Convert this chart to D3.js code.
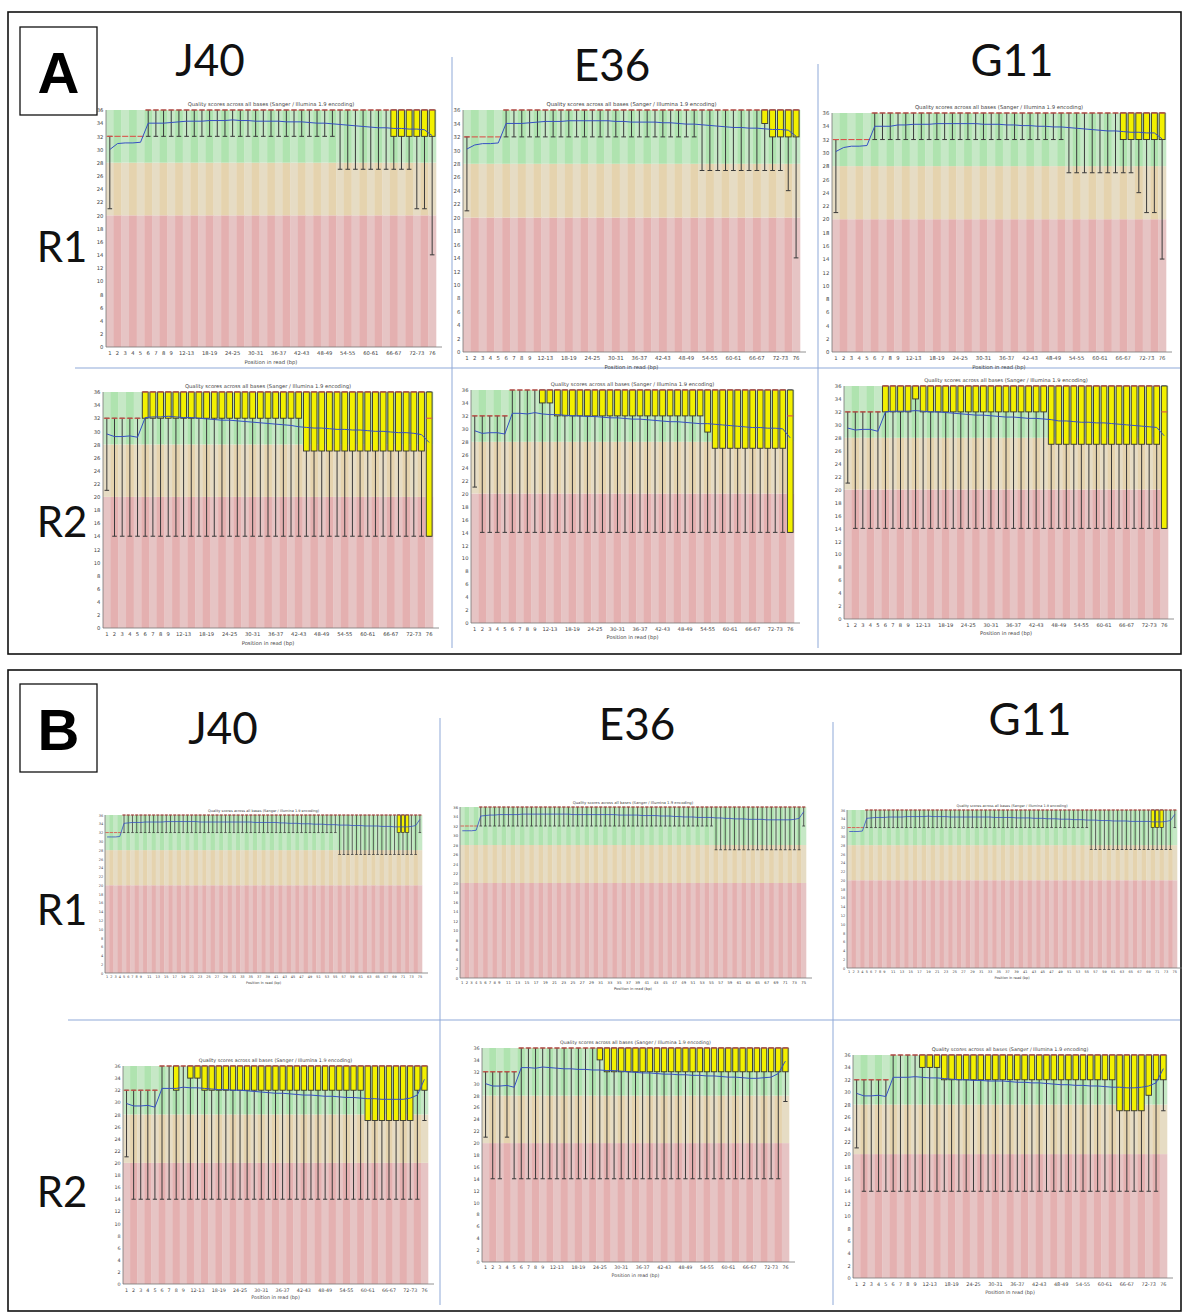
<!DOCTYPE html>
<html><head><meta charset="utf-8">
<script src="https://cdn.jsdelivr.net/npm/d3@7"></script>
<style>body{margin:0;background:#fff}svg{display:block}</style>
</head><body>
<svg id="fig" width="1182" height="1313"></svg>
<script>
// ---------- categories / tick labels ----------
const bins43 = ["1","2","3","4","5","6","7","8","9","10-11","12-13","14-15","16-17","18-19","20-21","22-23","24-25","26-27","28-29","30-31","32-33","34-35","36-37","38-39","40-41","42-43","44-45","46-47","48-49","50-51","52-53","54-55","56-57","58-59","60-61","62-63","64-65","66-67","68-69","70-71","72-73","74-75","76"];
const ticks43 = ["1","2","3","4","5","6","7","8","9","12-13","18-19","24-25","30-31","36-37","42-43","48-49","54-55","60-61","66-67","72-73","76"];
const bins75 = ["1","2","3","4","5","6","7","8","9","10","11","12","13","14","15","16","17","18","19","20","21","22","23","24","25","26","27","28","29","30","31","32","33","34","35","36","37","38","39","40","41","42","43","44","45","46","47","48","49","50","51","52","53","54","55","56","57","58","59","60","61","62","63","64","65","66","67","68","69","70","71","72","73","74","75"];
const ticks75 = ["1","2","3","4","5","6","7","8","9","11","13","15","17","19","21","23","25","27","29","31","33","35","37","39","41","43","45","47","49","51","53","55","57","59","61","63","65","67","69","71","73","75"];
const yTicks = [0,2,4,6,8,10,12,14,16,18,20,22,24,26,28,30,32,34,36];
const zoneBounds = [0,20,28,36];
const titleText = "Quality scores across all bases (Sanger / Illumina 1.9 encoding)";
const xLabelText = "Position in read (bp)";
const panelLetters = ["A","B"];
const sampleNames = ["J40","E36","G11"];
const readNames = ["R1","R2"];

// ---------- shared upper values (q3 / 90th pct / median) ----------
const upper43 = [32,32,32,32,32,36,36,36,36,36, 36,36,36,36,36,36,36,36,36,36, 36,36,36,36,36,36,36,36,36,36, 36,36,36,36,36,36,36,36,36,36, 36,36,36];
const medA2 = [32,32,32,32,32,36,36,36,36,36, 36,36,36,36,36,36,36,36,36,36, 36,36,36,36,36,36,36,36,36,36, 36,36,36,36,36,36,36,36,36,36, 36,36,32];
const upper75 = [32,32,32,32,36,36,36,36,36,36, 36,36,36,36,36,36,36,36,36,36, 36,36,36,36,36,36,36,36,36,36, 36,36,36,36,36,36,36,36,36,36, 36,36,36,36,36,36,36,36,36,36, 36,36,36,36,36,36,36,36,36,36, 36,36,36,36,36,36,36,36,36,36, 36,36,36,36,36];

// ---------- Panel A, R1 ----------
const aJ40R1_lo = [21,32,32,32,32,32,32,32,32,32, 32,32,32,32,32,32,32,32,32,32, 32,32,32,32,32,32,32,32,32,32, 27,27,27,27,27,27,27,27,27,27, 21,21,14];
const aJ40R1_q1 = [32,32,32,32,32,36,36,36,36,36, 36,36,36,36,36,36,36,36,36,36, 36,36,36,36,36,36,36,36,36,36, 36,36,36,36,36,36,36,32,32,32, 32,32,32];
const aJ40R1_mean = [30.0,30.9,31.0,31.0,31.1,34.0,34.0,34.0,34.1,34.2, 34.3,34.3,34.3,34.4,34.4,34.4,34.5,34.4,34.4,34.3, 34.3,34.3,34.3,34.2,34.2,34.2,34.1,34.0,34.0,33.9, 33.8,33.7,33.6,33.5,33.4,33.3,33.3,33.2,33.2,33.1, 33.1,33.0,32.1];

const aE36R1_lo = [21,32,32,32,32,32,32,32,32,32, 32,32,32,32,32,32,32,32,32,32, 32,32,32,32,32,32,32,32,32,32, 27,27,27,27,27,27,27,27,27,27, 27,24,14];
const aE36R1_q1 = [32,32,32,32,32,36,36,36,36,36, 36,36,36,36,36,36,36,36,36,36, 36,36,36,36,36,36,36,36,36,36, 36,36,36,36,36,36,36,36,34,32, 32,32,32];
const aE36R1_mean = [30.2,30.8,31.0,31.0,31.1,34.0,34.0,34.0,34.1,34.2, 34.3,34.3,34.3,34.4,34.4,34.4,34.4,34.4,34.4,34.3, 34.3,34.2,34.2,34.2,34.2,34.1,34.1,34.0,33.9,33.9, 33.8,33.7,33.6,33.5,33.4,33.4,33.3,33.3,33.2,33.1, 33.1,33.0,32.1];

const aG11R1_lo = [21,32,32,32,32,32,32,32,32,32, 32,32,32,32,32,32,32,32,32,32, 32,32,32,32,32,32,32,32,32,32, 27,27,27,27,27,27,27,27,27,24, 21,21,14];
const aG11R1_q1 = [32,32,32,32,32,36,36,36,36,36, 36,36,36,36,36,36,36,36,36,36, 36,36,36,36,36,36,36,36,36,36, 36,36,36,36,36,36,36,32,32,32, 32,32,32];
const aG11R1_mean = [30.2,30.8,31.0,31.0,31.1,34.0,34.0,34.0,34.2,34.2, 34.3,34.3,34.3,34.4,34.4,34.4,34.4,34.4,34.4,34.3, 34.3,34.3,34.2,34.2,34.1,34.1,34.0,34.0,33.9,33.9, 33.8,33.7,33.6,33.5,33.4,33.3,33.3,33.2,33.1,33.1, 33.0,33.0,32.1];

// ---------- Panel A, R2 ----------
const aJ40R2_lo = [21,14,14,14,14,14,14,14,14,14, 14,14,14,14,14,14,14,14,14,14, 14,14,14,14,14,14,14,14,14,14, 14,14,14,14,14,14,14,14,14,14, 14,14,14];
const aJ40R2_q1 = [32,32,32,32,32,32,32,32,32,32, 32,32,32,32,32,32,32,32,32,32, 32,32,32,32,32,32,27,27,27,27, 27,27,27,27,27,27,27,27,27,27, 27,27,14];
const aJ40R2_mean = [29.6,29.2,29.2,29.3,29.1,32.1,32.2,32.2,32.3,32.2, 32.1,32.1,32.0,31.9,31.8,31.7,31.7,31.6,31.5,31.4, 31.3,31.2,31.1,31.0,30.9,30.7,30.6,30.5,30.5,30.4, 30.3,30.3,30.2,30.2,30.1,30.0,30.0,29.9,29.8,29.8, 29.7,29.5,28.3];

const aE36R2_lo = [21,14,14,14,14,14,14,14,14,14, 14,14,14,14,14,14,14,14,14,14, 14,14,14,14,14,14,14,14,14,14, 14,14,14,14,14,14,14,14,14,14, 14,14,14];
const aE36R2_q1 = [32,32,32,32,32,36,36,36,36,34, 34,32,32,32,32,32,32,32,32,32, 32,32,32,32,32,32,32,32,32,32, 32,29.5,27,27,27,27,27,27,27,27, 27,27,14];
const aE36R2_mean = [29.7,29.3,29.4,29.4,29.2,32.4,32.4,32.3,32.5,32.3, 32.2,32.2,32.1,32.0,32.0,31.9,31.9,31.8,31.7,31.7, 31.6,31.5,31.5,31.4,31.3,31.2,31.1,31.1,31.0,30.9, 30.8,30.8,30.7,30.6,30.5,30.4,30.3,30.2,30.2,30.1, 30.1,30.0,28.6];

const aG11R2_lo = [21,14,14,14,14,14,14,14,14,14, 14,14,14,14,14,14,14,14,14,14, 14,14,14,14,14,14,14,14,14,14, 14,14,14,14,14,14,14,14,14,14, 14,14,14];
const aG11R2_q1 = [32,32,32,32,32,32,32,32,32,34, 32,32,32,32,32,32,32,32,32,32, 32,32,32,32,32,32,32,27,27,27, 27,27,27,27,27,27,27,27,27,27, 27,27,14];
const aG11R2_mean = [29.5,29.2,29.3,29.3,29.0,32.0,32.1,32.1,32.1,32.2, 32.1,32.0,32.0,31.9,31.8,31.7,31.6,31.5,31.5,31.4, 31.3,31.2,31.2,31.1,31.0,31.0,30.9,30.8,30.6,30.6, 30.5,30.4,30.4,30.3,30.3,30.2,30.1,30.0,29.9,29.8, 29.7,29.6,28.3];

// ---------- Panel B, R1 (75 positions) ----------
const bJ40R1_lo = [32,32,32,32,32,32,32,32,32,32, 32,32,32,32,32,32,32,32,32,32, 32,32,32,32,32,32,32,32,32,32, 32,32,32,32,32,32,32,32,32,32, 32,32,32,32,32,32,32,32,32,32, 32,32,32,32,32,27,27,27,27,27, 27,27,27,27,27,27,27,27,27,27, 27,27,27,27,32];
const bJ40R1_q1 = [32,32,32,32,36,36,36,36,36,36, 36,36,36,36,36,36,36,36,36,36, 36,36,36,36,36,36,36,36,36,36, 36,36,36,36,36,36,36,36,36,36, 36,36,36,36,36,36,36,36,36,36, 36,36,36,36,36,36,36,36,36,36, 36,36,36,36,36,36,36,36,36,32, 32,32,36,36,36];
const bJ40R1_mean = [31.0,31.0,31.0,31.1,34.1,34.2,34.3,34.3,34.3,34.4, 34.4,34.4,34.4,34.4,34.5,34.5,34.5,34.5,34.5,34.5, 34.5,34.5,34.4,34.4,34.4,34.4,34.4,34.4,34.4,34.4, 34.4,34.4,34.4,34.4,34.4,34.3,34.3,34.3,34.3,34.3, 34.3,34.2,34.2,34.1,34.1,34.1,34.0,34.0,34.0,33.9, 33.9,33.9,33.8,33.8,33.8,33.7,33.7,33.7,33.6,33.6, 33.6,33.5,33.5,33.5,33.5,33.4,33.4,33.4,33.3,33.3, 33.3,33.3,33.4,33.6,35.0];

const bE36R1_lo = [32,32,32,32,32,32,32,32,32,32, 32,32,32,32,32,32,32,32,32,32, 32,32,32,32,32,32,32,32,32,32, 32,32,32,32,32,32,32,32,32,32, 32,32,32,32,32,32,32,32,32,32, 32,32,32,32,32,27,27,27,27,27, 27,27,27,27,27,27,27,27,27,27, 27,27,27,27,32];
const bE36R1_q1 = upper75;
const bE36R1_mean = [31.0,31.0,31.0,31.1,34.1,34.2,34.3,34.3,34.4,34.4, 34.4,34.4,34.4,34.5,34.5,34.5,34.5,34.5,34.5,34.5, 34.5,34.5,34.5,34.5,34.4,34.4,34.4,34.4,34.4,34.4, 34.4,34.4,34.4,34.4,34.3,34.3,34.3,34.3,34.3,34.2, 34.2,34.2,34.2,34.1,34.1,34.1,34.0,34.0,33.9,33.9, 33.9,33.8,33.8,33.8,33.8,33.7,33.7,33.6,33.6,33.5, 33.5,33.5,33.4,33.4,33.4,33.4,33.3,33.3,33.3,33.3, 33.3,33.3,33.4,33.6,35.0];

const bG11R1_lo = [32,32,32,32,32,32,32,32,32,32, 32,32,32,32,32,32,32,32,32,32, 32,32,32,32,32,32,32,32,32,32, 32,32,32,32,32,32,32,32,32,32, 32,32,32,32,32,32,32,32,32,32, 32,32,32,32,32,27,27,27,27,27, 27,27,27,27,27,27,27,27,27,27, 27,27,27,27,32];
const bG11R1_q1 = [32,32,32,32,36,36,36,36,36,36, 36,36,36,36,36,36,36,36,36,36, 36,36,36,36,36,36,36,36,36,36, 36,36,36,36,36,36,36,36,36,36, 36,36,36,36,36,36,36,36,36,36, 36,36,36,36,36,36,36,36,36,36, 36,36,36,36,36,36,36,36,36,32, 32,32,36,36,36];
const bG11R1_mean = [31.1,31.1,31.1,31.2,34.1,34.2,34.3,34.3,34.3,34.4, 34.4,34.4,34.4,34.5,34.5,34.5,34.5,34.5,34.6,34.5, 34.5,34.5,34.5,34.4,34.4,34.4,34.4,34.4,34.4,34.4, 34.4,34.4,34.4,34.3,34.3,34.3,34.3,34.3,34.2,34.2, 34.2,34.2,34.1,34.1,34.1,34.0,34.0,34.0,33.9,33.9, 33.9,33.8,33.8,33.8,33.7,33.7,33.7,33.6,33.6,33.6, 33.5,33.5,33.5,33.5,33.4,33.4,33.4,33.4,33.4,33.3, 33.3,33.3,33.4,33.6,35.0];

// ---------- Panel B, R2 ----------
const bJ40R2_lo = [21,14,14,14,14,14,14,14,14,14, 14,14,14,14,14,14,14,14,14,14, 14,14,14,14,14,14,14,14,14,14, 14,14,14,14,14,14,14,14,14,14, 14,14,27];
const bJ40R2_q1 = [32,32,32,32,32,36,36,32,36,34, 34,32,32,32,32,32,32,32,32,32, 32,32,32,32,32,32,32,32,32,32, 32,32,32,32,27,27,27,27,27,27, 27,32,32];
const bJ40R2_mean = [29.8,29.4,29.4,29.5,29.2,32.3,32.3,32.3,32.5,32.4, 32.4,32.3,32.2,32.1,32.1,32.0,32.0,31.9,31.8,31.7, 31.6,31.5,31.5,31.4,31.3,31.2,31.2,31.1,31.0,31.0, 30.9,30.8,30.8,30.7,30.6,30.6,30.5,30.5,30.5,30.5, 30.7,31.2,33.8];

const bE36R2_lo = [21,14,14,21,14,14,14,14,14,14, 14,14,14,14,14,14,14,14,14,14, 14,14,14,14,14,14,14,14,14,14, 14,14,14,14,14,14,14,14,14,14, 14,14,27];
const bE36R2_q1 = [32,32,32,32,32,36,36,36,36,36, 36,36,36,36,36,36,34,32,32,32, 32,32,32,32,32,32,32,32,32,32, 32,32,32,32,32,32,32,32,32,32, 32,32,32];
const bE36R2_mean = [30.0,29.6,29.6,29.7,29.4,32.7,32.7,32.6,32.8,32.7, 32.6,32.5,32.5,32.4,32.4,32.3,32.3,32.2,32.2,32.1, 32.0,31.9,31.8,31.8,31.7,31.6,31.6,31.5,31.5,31.4, 31.4,31.3,31.3,31.2,31.1,31.1,31.0,30.9,30.9,31.0, 31.1,31.7,33.8];

const bG11R2_lo = [21,14,14,14,14,14,14,14,14,14, 14,14,14,14,14,14,14,14,14,14, 14,14,14,14,14,14,14,14,14,14, 14,14,14,14,14,14,14,14,14,14, 14,14,27];
const bG11R2_q1 = [32,32,32,32,32,36,36,36,36,34, 34,34,32,32,32,32,32,32,32,32, 32,32,32,32,32,32,32,32,32,32, 32,32,32,32,32,32,27,27,27,27, 29.5,32,32];
const bG11R2_mean = [29.8,29.4,29.4,29.5,29.3,32.4,32.4,32.4,32.5,32.4, 32.3,32.3,32.2,32.1,32.0,32.0,31.9,31.9,31.8,31.8, 31.8,31.7,31.6,31.6,31.5,31.5,31.4,31.3,31.2,31.2, 31.1,31.1,31.0,31.0,30.9,30.8,30.8,30.7,30.7,30.8, 31.0,31.5,33.8];

// ---------- layout ----------
const plots = [
  {x:106,y:110,w:330,h:237,bins:bins43,ticks:ticks43,lo:aJ40R1_lo,q1:aJ40R1_q1,med:upper43,q3:upper43,hi:upper43,mean:aJ40R1_mean},
  {x:463,y:110,w:337,h:242,bins:bins43,ticks:ticks43,lo:aE36R1_lo,q1:aE36R1_q1,med:upper43,q3:upper43,hi:upper43,mean:aE36R1_mean},
  {x:832,y:113,w:334,h:239,bins:bins43,ticks:ticks43,lo:aG11R1_lo,q1:aG11R1_q1,med:upper43,q3:upper43,hi:upper43,mean:aG11R1_mean},
  {x:103,y:392,w:330,h:236,bins:bins43,ticks:ticks43,lo:aJ40R2_lo,q1:aJ40R2_q1,med:medA2,q3:upper43,hi:upper43,mean:aJ40R2_mean},
  {x:471,y:390,w:323,h:233,bins:bins43,ticks:ticks43,lo:aE36R2_lo,q1:aE36R2_q1,med:medA2,q3:upper43,hi:upper43,mean:aE36R2_mean},
  {x:844,y:386,w:324,h:233,bins:bins43,ticks:ticks43,lo:aG11R2_lo,q1:aG11R2_q1,med:medA2,q3:upper43,hi:upper43,mean:aG11R2_mean},
  {x:105,y:815,w:317,h:158,bins:bins75,ticks:ticks75,lo:bJ40R1_lo,q1:bJ40R1_q1,med:upper75,q3:upper75,hi:upper75,mean:bJ40R1_mean},
  {x:460,y:807,w:346,h:171,bins:bins75,ticks:ticks75,lo:bE36R1_lo,q1:bE36R1_q1,med:upper75,q3:upper75,hi:upper75,mean:bE36R1_mean},
  {x:847,y:810,w:330,h:158,bins:bins75,ticks:ticks75,lo:bG11R1_lo,q1:bG11R1_q1,med:upper75,q3:upper75,hi:upper75,mean:bG11R1_mean},
  {x:123,y:1066,w:305,h:218,bins:bins43,ticks:ticks43,lo:bJ40R2_lo,q1:bJ40R2_q1,med:upper43,q3:upper43,hi:upper43,mean:bJ40R2_mean},
  {x:482,y:1048,w:307,h:214,bins:bins43,ticks:ticks43,lo:bE36R2_lo,q1:bE36R2_q1,med:upper43,q3:upper43,hi:upper43,mean:bE36R2_mean},
  {x:853,y:1055,w:314,h:223,bins:bins43,ticks:ticks43,lo:bG11R2_lo,q1:bG11R2_q1,med:upper43,q3:upper43,hi:upper43,mean:bG11R2_mean}
];

const svg = d3.select("#fig");
svg.append("rect").attr("width",1182).attr("height",1313).attr("fill","#fff");

// panel frames
const frames = [{y:12,h:642},{y:670,h:641}];
frames.forEach(f=>svg.append("rect").attr("x",8).attr("y",f.y).attr("width",1173).attr("height",f.h)
  .attr("fill","none").attr("stroke","#111").attr("stroke-width",1.6));

// separator lines
const sepColor = "#8fa9d8";
const seps = [
  [452,57,452,648],[818,64,818,648],[75,368,1180,368],
  [440,718,440,1305],[833,722,833,1305],[68,1020,1180,1020]
];
seps.forEach(s=>svg.append("line").attr("x1",s[0]).attr("y1",s[1]).attr("x2",s[2]).attr("y2",s[3])
  .attr("stroke",sepColor).attr("stroke-width",1));

// panel letters
const letterPos = [{y:27},{y:684}];
panelLetters.forEach((L,i)=>{
  svg.append("rect").attr("x",20).attr("y",letterPos[i].y).attr("width",77).attr("height",88)
    .attr("fill","#fff").attr("stroke","#111").attr("stroke-width",1.3);
  svg.append("text").attr("x",58.5).attr("y",letterPos[i].y+66).attr("text-anchor","middle")
    .attr("font-family","Liberation Sans, Arial, sans-serif").attr("font-weight","bold")
    .attr("font-size",58).attr("fill","#000").text(L);
});

// sample names & read labels
const bigFont = "Lato, 'Open Sans', sans-serif";
const namePos = [[[210,76],[612,81],[1012,76]],[[223,744],[637,740],[1030,735]]];
namePos.forEach(row=>row.forEach((p,j)=>{
  svg.append("text").attr("x",p[0]).attr("y",p[1]).attr("text-anchor","middle")
    .attr("font-family",bigFont).attr("font-size",44).attr("fill","#111").text(sampleNames[j]);
}));
const readPos = [[262,537],[925,1207]];
readPos.forEach(row=>row.forEach((yy,j)=>{
  svg.append("text").attr("x",62).attr("y",yy).attr("text-anchor","middle")
    .attr("font-family",bigFont).attr("font-size",42).attr("fill","#111").text(readNames[j]);
}));

const zoneColors = [["#e6c4c4","#e4b0b0"],["#e6dcc4","#e5d3ae"],["#c6e8c6","#afe3af"]];

function drawPlot(p){
  const g = svg.append("g");
  const x = d3.scaleBand().domain(p.bins).range([p.x, p.x+p.w]);
  const y = d3.scaleLinear().domain([0,36]).range([p.y+p.h, p.y]);
  const bw = x.bandwidth();
  const fs = p.h/45;
  const sw = Math.min(1, bw/9+0.3);
  const rows = p.bins.map((b,i)=>({b,i,lo:p.lo[i],q1:p.q1[i],med:p.med[i],q3:p.q3[i],hi:p.hi[i],mean:p.mean[i]}));

  // background stripes
  for(let z=0; z<3; z++){
    g.append("g").selectAll("rect").data(rows).join("rect")
      .attr("x",d=>x(d.b)).attr("width",bw+0.3)
      .attr("y",y(zoneBounds[z+1])).attr("height",y(zoneBounds[z])-y(zoneBounds[z+1]))
      .attr("fill",d=>zoneColors[z][d.i%2]);
  }
  // whiskers
  const wk = rows.filter(d=>d.lo<d.hi);
  g.append("g").selectAll("line").data(wk).join("line")
    .attr("x1",d=>x(d.b)+bw/2).attr("x2",d=>x(d.b)+bw/2)
    .attr("y1",d=>y(d.lo)).attr("y2",d=>y(d.hi))
    .attr("stroke","#3a3a3a").attr("stroke-width",sw);
  ["lo","hi"].forEach(k=>{
    g.append("g").selectAll("line").data(wk).join("line")
      .attr("x1",d=>x(d.b)+bw*0.2).attr("x2",d=>x(d.b)+bw*0.8)
      .attr("y1",d=>y(d[k])).attr("y2",d=>y(d[k]))
      .attr("stroke","#3a3a3a").attr("stroke-width",sw);
  });
  // boxes
  g.append("g").selectAll("rect").data(rows.filter(d=>d.q1<d.q3)).join("rect")
    .attr("x",d=>x(d.b)+bw*0.12).attr("width",bw*0.76)
    .attr("y",d=>y(d.q3)).attr("height",d=>y(d.q1)-y(d.q3))
    .attr("fill","#f2f000").attr("stroke","#333").attr("stroke-width",sw*0.9);
  // medians
  g.append("g").selectAll("line").data(rows).join("line")
    .attr("x1",d=>x(d.b)+bw*0.1).attr("x2",d=>x(d.b)+bw*0.9)
    .attr("y1",d=>y(d.med)).attr("y2",d=>y(d.med))
    .attr("stroke","#d9534a").attr("stroke-width",sw*1.1);
  // mean line
  g.append("path").datum(rows)
    .attr("d",d3.line().x(d=>x(d.b)+bw/2).y(d=>y(d.mean)))
    .attr("fill","none").attr("stroke","#3550c4").attr("stroke-width",Math.max(0.8,sw));

  // axes
  g.append("line").attr("x1",p.x).attr("x2",p.x).attr("y1",p.y).attr("y2",p.y+p.h).attr("stroke","#777").attr("stroke-width",0.8);
  g.append("line").attr("x1",p.x).attr("x2",p.x+p.w+6).attr("y1",p.y+p.h).attr("y2",p.y+p.h).attr("stroke","#777").attr("stroke-width",0.8);

  const ya = g.append("g").attr("transform",`translate(${p.x},0)`)
    .call(d3.axisLeft(y).tickValues(yTicks).tickSize(0).tickPadding(fs*0.5));
  ya.select(".domain").remove();
  ya.selectAll("text").attr("font-size",fs).attr("font-family","DejaVu Sans, sans-serif").attr("fill","#444");

  const xa = g.append("g").attr("transform",`translate(0,${p.y+p.h})`)
    .call(d3.axisBottom(x).tickValues(p.ticks).tickSize(0).tickPadding(fs*0.84));
  xa.select(".domain").remove();
  xa.selectAll("text").attr("font-size",fs).attr("font-family","DejaVu Sans, sans-serif").attr("fill","#444");

  g.append("text").attr("x",p.x+p.w/2).attr("y",p.y-fs*0.8).attr("text-anchor","middle")
    .attr("font-size",fs).attr("font-family","DejaVu Sans, sans-serif").attr("fill","#444").text(titleText);
  g.append("text").attr("x",p.x+p.w/2).attr("y",p.y+p.h+fs*3.15).attr("text-anchor","middle")
    .attr("font-size",fs).attr("font-family","DejaVu Sans, sans-serif").attr("fill","#444").text(xLabelText);
}
plots.forEach(drawPlot);
</script>
</body></html>
